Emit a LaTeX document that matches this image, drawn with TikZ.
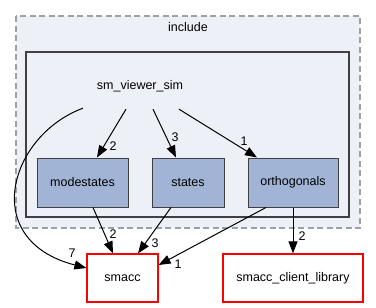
\documentclass[tikz,border=0pt]{standalone}
\usepackage{fontspec}
\setmainfont{Liberation Sans}
\usetikzlibrary{arrows.meta}
\definecolor{clusterbg}{HTML}{EDF0F7}
\definecolor{clusterline}{HTML}{A0A0A0}
\definecolor{darkline}{HTML}{404040}
\definecolor{dirfill}{HTML}{A2B4D6}
\tikzset{
  lbl/.style={font=\fontsize{12.5}{14}\selectfont, inner sep=0pt},
  dirbox/.style={draw=darkline, fill=dirfill, line width=1pt, minimum height=49pt,
    inner sep=0pt, font=\fontsize{12.5}{14}\selectfont},
  extbox/.style={draw=red, fill=white, line width=1.2pt, minimum height=48pt,
    inner sep=0pt, font=\fontsize{12.5}{14}\selectfont},
  dep/.style={line width=1pt, -{Triangle[length=12pt,width=9pt]}},
}
\begin{document}
\begin{tikzpicture}[x=1pt,y=-1pt]
\useasboundingbox (0,0) rectangle (376,308);
% outer "include" folder
\draw[clusterline, fill=clusterbg, line width=1.3pt, dash pattern=on 6pt off 3.5pt]
  (16,16) rectangle (360,228);
\node[lbl] (inc) at (188,27) {include};
% inner "sm_viewer_sim" folder
\draw[darkline, fill=clusterbg, line width=2pt] (26,52) rectangle (349,217);
\node[lbl, minimum width=114pt, minimum height=46pt] (svs) at (140,86) {};
\node[lbl] (svslabel) at (140,86) {sm\_viewer\_sim};
% sub-directories
\node[dirbox, minimum width=91pt] (ms) at (82.5,182.5) {modestates};
\node[dirbox, minimum width=72pt] (st) at (188,182.5) {states};
\node[dirbox, minimum width=90pt] (or) at (293,182.5) {orthogonals};
% external directories
\node[extbox, minimum width=71pt] (smacc) at (122.5,278) {smacc};
\node[extbox, minimum width=140pt] (lib) at (293,278) {smacc\_client\_library};
% dependencies
\draw[dep] ([xshift=-14pt]svs.south) -- ([xshift=14.5pt]ms.north);
\draw[dep] ([xshift=13pt]svs.south) -- ([xshift=-12pt]st.north);
\draw[dep] ([xshift=39pt]svs.south) -- ([xshift=-36pt]or.north);
\draw[dep] ([xshift=-57pt,yshift=1pt]svs.south) .. controls (10,135) and (-22,240) .. ([yshift=10pt]smacc.west);
\draw[dep] ([xshift=10.5pt]ms.south) -- ([xshift=-9.5pt]smacc.north);
\draw[dep] ([xshift=-17pt]st.south) -- ([xshift=15.5pt]smacc.north);
\draw[dep] ([xshift=-27pt]or.south) -- ([yshift=13pt]smacc.east);
\draw[dep] (or.south) -- (lib.north);
% edge labels
\node[lbl] (l1) at (113,146) {2};
\node[lbl] (l2) at (175,137) {3};
\node[lbl] (l3) at (244,141) {1};
\node[lbl] (l4) at (72,253) {7};
\node[lbl] (l5) at (113,234) {2};
\node[lbl] (l6) at (155,243) {3};
\node[lbl] (l7) at (178,264) {1};
\node[lbl] (l8) at (302,236) {2};
\end{tikzpicture}
\end{document}
